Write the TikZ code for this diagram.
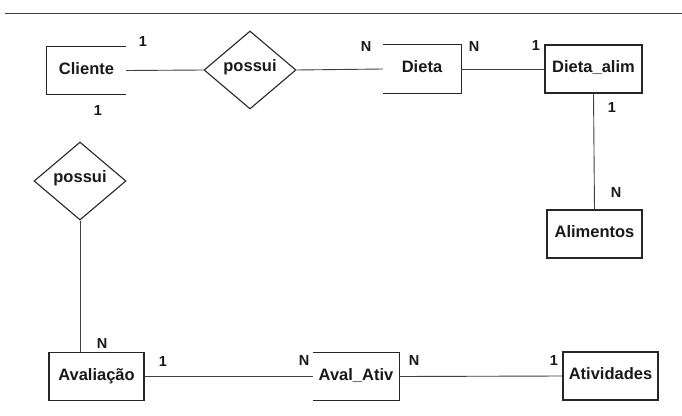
\documentclass[tikz,border=0pt]{standalone}
\usepackage{fontspec}
\setmainfont{Liberation Sans}
\usetikzlibrary{shapes.geometric}
\begin{document}
\begin{tikzpicture}[x=1pt,y=-1pt,
  every node/.style={font=\fontsize{16.5}{18}\selectfont\bfseries, text=black!90},
  bx/.style={line width=1.1pt, draw=black!85},
  ln/.style={line width=0.9pt, draw=black!75},
  ent/.style={rectangle, minimum width=#1, minimum height=48pt, inner sep=0pt, text height=12pt, text depth=5pt},
  fullent/.style={ent=#1, bx},
  rel/.style={diamond, bx, minimum width=92pt, minimum height=78pt, inner sep=0pt, text height=7pt, text depth=5pt},
  card/.style={font=\fontsize{14.5}{16}\selectfont\bfseries, inner sep=0pt}]
\useasboundingbox (0,0) rectangle (682,415);
\fill[white] (0,0) rectangle (682,415);
% top rule
\coordinate (tl) at (5,13);
\coordinate (tr) at (682,13);
\draw[line width=1pt, draw=black!75] (tl) -- (tr);
% entities
\node[ent=79pt] (cli) at (86.5,70.5) {Cliente};
\node[ent=78pt] (die) at (422,69) {Dieta};
\node[fullent=97pt] (dal) at (593.5,69) {Dieta\_alim};
\node[fullent=95pt] (ali) at (594.5,234) {Alimentos};
\node[fullent=95pt] (ava) at (96.5,376.5) {Avaliação};
\node[ent=86pt] (aat) at (356,376.5) {Aval\_Ativ};
\node[fullent=95pt] (ati) at (610.5,376) {Atividades};
% open boxes
\draw[bx] (cli.north east) -- (cli.north west) -- (cli.south west) -- (cli.south east);
\draw[bx] (die.north west) -- (die.north east) -- (die.south east) -- (die.south west);
\draw[bx] (aat.north west) -- (aat.north east) -- (aat.south east) -- (aat.south west);
% relationships
\node[rel] (pos1) at (250,70) {possui};
\node[rel] (pos2) at (80,181) {possui};
% connectors
\draw[ln] (cli.east) -- (pos1.west);
\draw[ln] (pos1.east) -- (die.west);
\draw[ln] (die.east) -- (dal.west);
\draw[ln] (dal.south) -- (ali.north);
\draw[ln] (pos2.south) -- (pos2.south |- ava.north);
\draw[ln] (ava.east) -- (aat.west);
\draw[ln] (aat.east) -- (ati.west);
% cardinalities
\node[card] (c1) at (143,42) {1};
\node[card] (c2) at (98,111) {1};
\node[card] (c3) at (366,47) {N};
\node[card] (c4) at (474,47) {N};
\node[card] (c5) at (536,46) {1};
\node[card] (c6) at (612,108) {1};
\node[card] (c7) at (616,193) {N};
\node[card] (c8) at (102,344) {N};
\node[card] (c9) at (163,362) {1};
\node[card] (c10) at (304,361) {N};
\node[card] (c11) at (414,361) {N};
\node[card] (c12) at (554,361) {1};
\end{tikzpicture}
\end{document}
